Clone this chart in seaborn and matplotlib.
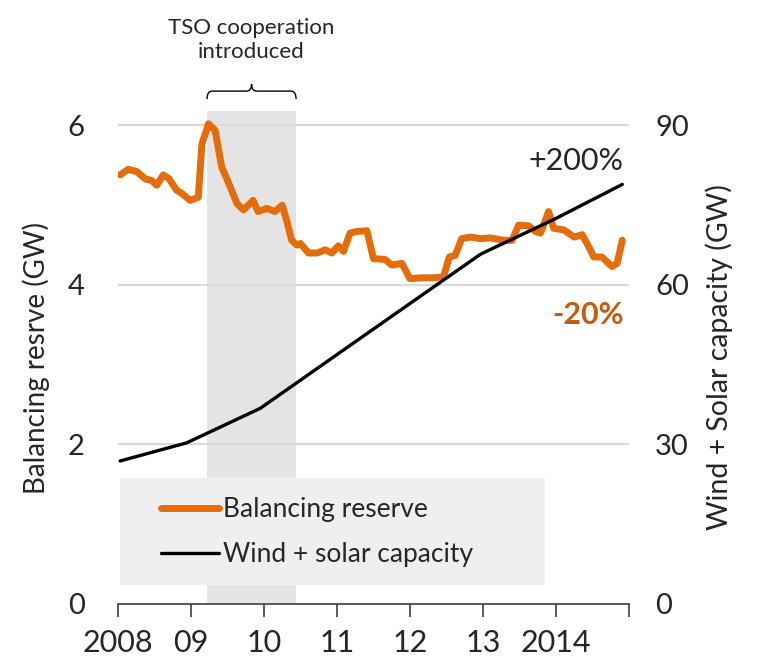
"""
Balancing reserve vs wind + solar capacity, Germany 2008-2014.
"""

import matplotlib
matplotlib.use("Agg")
import matplotlib.pyplot as plt
from matplotlib.path import Path
from matplotlib.patches import PathPatch, Rectangle
from matplotlib.lines import Line2D
import pandas as pd
import seaborn as sns

# balancing reserve (GW)
reserve_year = [
    2008.03, 2008.14, 2008.26, 2008.37, 2008.46, 2008.53, 2008.62, 2008.70,
    2008.80, 2008.87, 2008.99, 2009.10, 2009.15, 2009.24, 2009.33, 2009.42,
    2009.51, 2009.63, 2009.72, 2009.85, 2009.92, 2010.04, 2010.15, 2010.25,
    2010.31, 2010.38, 2010.45, 2010.50, 2010.61, 2010.73, 2010.84, 2010.93,
    2011.02, 2011.09, 2011.18, 2011.27, 2011.41, 2011.50, 2011.66, 2011.75,
    2011.89, 2012.00, 2012.19, 2012.32, 2012.46, 2012.54, 2012.62, 2012.71,
    2012.83, 2012.97, 2013.10, 2013.28, 2013.40, 2013.49, 2013.63, 2013.72,
    2013.79, 2013.90, 2013.97, 2014.11, 2014.25, 2014.36, 2014.45, 2014.52,
    2014.63, 2014.77, 2014.84, 2014.91,
]
reserve_gw = [
    5.38, 5.45, 5.42, 5.33, 5.31, 5.25, 5.38, 5.33,
    5.19, 5.15, 5.06, 5.10, 5.77, 6.02, 5.94, 5.48,
    5.29, 5.02, 4.94, 5.06, 4.92, 4.96, 4.92, 5.00,
    4.81, 4.56, 4.50, 4.52, 4.40, 4.40, 4.44, 4.40,
    4.49, 4.42, 4.65, 4.67, 4.68, 4.33, 4.32, 4.25,
    4.27, 4.08, 4.09, 4.09, 4.10, 4.35, 4.37, 4.58,
    4.60, 4.58, 4.59, 4.56, 4.56, 4.75, 4.74, 4.67,
    4.65, 4.92, 4.71, 4.69, 4.60, 4.63, 4.48, 4.35,
    4.35, 4.23, 4.27, 4.56,
]

# wind + solar capacity (GW)
capacity_year = [2008.03, 2008.94, 2009.95, 2011.0, 2012.0, 2012.97, 2014.0, 2014.91]
capacity_gw = [26.9, 30.3, 36.8, 46.9, 56.5, 65.8, 72.5, 78.9]

year_ticks = [2008, 2009, 2010, 2011, 2012, 2013, 2014, 2015]
year_labels = ["2008", "09", "10", "11", "12", "13", "2014", ""]

coop_start = 2009.22
coop_end = 2010.44

ORANGE = "#E46C0A"
DARK_ORANGE = "#C55A11"

sns.set_theme(style="white")
plt.rcParams["font.family"] = ["Lato", "DejaVu Sans"]

reserve = pd.DataFrame({"year": reserve_year, "gw": reserve_gw})
capacity = pd.DataFrame({"year": capacity_year, "gw": capacity_gw})

fig = plt.figure(figsize=(7.59, 6.63), dpi=100)
ax = fig.add_axes([0.1555, 0.089, 0.673, 0.7435])
ax2 = ax.twinx()

ymax = 6.18
ax.set_ylim(0, ymax)
ax2.set_ylim(0, ymax * 15)
ax.set_xlim(2008, 2015)

# shaded period
ax.axvspan(coop_start, coop_end, color="#E4E4E4", zorder=0.3, lw=0)

ax.set_axisbelow(True)
ax.yaxis.grid(True, color="#D9D9D9", lw=1.5)
ax.xaxis.grid(False)

# legend background box
ax.add_patch(Rectangle((0.004, 0.038), 0.832, 0.218, transform=ax.transAxes,
                       facecolor="#EFEFEF", edgecolor="none", zorder=0.6))

sns.lineplot(data=reserve, x="year", y="gw", ax=ax, color=ORANGE, lw=5,
             solid_capstyle="round", solid_joinstyle="round", zorder=3)
sns.lineplot(data=capacity, x="year", y="gw", ax=ax2, color="black", lw=2.4,
             solid_capstyle="round", zorder=3)

ax.set_yticks([0, 2, 4, 6])
ax2.set_yticks([0, 30, 60, 90])
ax.set_xticks(year_ticks)
ax.set_xticklabels(year_labels)

for a in (ax, ax2):
    for s in a.spines.values():
        s.set_visible(False)
ax.spines["bottom"].set_visible(True)
ax.spines["bottom"].set_color("#404040")
ax.spines["bottom"].set_linewidth(1.2)

ax.tick_params(axis="x", direction="out", length=9, width=1.2, color="#404040",
               bottom=True, pad=9, labelsize=22)
ax.tick_params(axis="y", length=0, pad=24, labelsize=21)
ax2.tick_params(axis="y", length=0, pad=19, labelsize=21)

ax.set_xlabel("")
ax.set_ylabel("Balancing resrve (GW)", fontsize=20, labelpad=13)
ax2.set_ylabel("Wind + Solar capacity (GW)", fontsize=20.5, labelpad=12)

# annotations
ax.text(2014.93, 5.56, "+200%", ha="right", va="center", fontsize=22)
ax.text(2014.93, 3.62, "-20%", ha="right", va="center", fontsize=22,
        fontweight="bold", color=DARK_ORANGE)

# brace over the shaded period
mid = (coop_start + coop_end) / 2
d = 0.07
yb, yf, yt = 6.33, 6.43, 6.52
verts = [
    (coop_start, yb), (coop_start, yf), (coop_start + d, yf),
    (mid - d, yf), (mid, yf), (mid, yt),
    (mid, yf), (mid + d, yf),
    (coop_end - d, yf), (coop_end, yf), (coop_end, yb),
]
codes = [
    Path.MOVETO, Path.CURVE3, Path.CURVE3,
    Path.LINETO, Path.CURVE3, Path.CURVE3,
    Path.CURVE3, Path.CURVE3,
    Path.LINETO, Path.CURVE3, Path.CURVE3,
]
ax.add_patch(PathPatch(Path(verts, codes), fill=False, lw=1, color="black",
                       clip_on=False))
ax.text(mid, 7.07, "TSO cooperation\nintroduced", ha="center", va="center",
        fontsize=16, linespacing=1.3, clip_on=False)

handles = [
    Line2D([], [], color=ORANGE, lw=5, solid_capstyle="round"),
    Line2D([], [], color="black", lw=2.4),
]
ax2.legend(handles, ["Balancing reserve", "Wind + solar capacity"],
           loc="center left", bbox_to_anchor=(0.085, 0.146), frameon=False,
           fontsize=19, handlelength=2.2, handletextpad=0.15, labelspacing=0.75,
           borderpad=0, borderaxespad=0)

fig.savefig("out.png", dpi=100)
